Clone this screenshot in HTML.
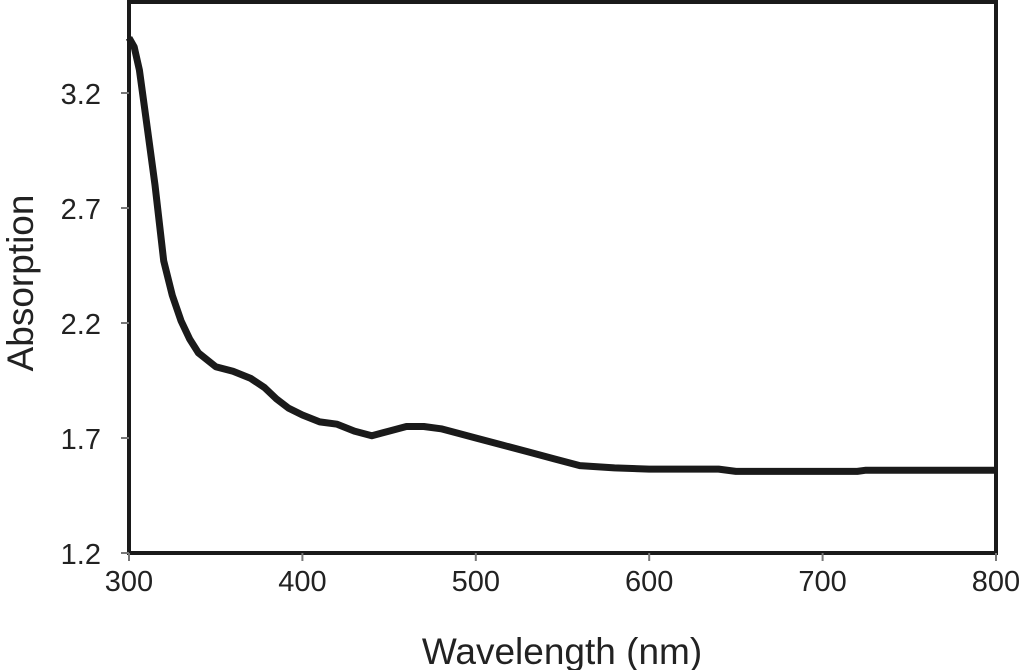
<!DOCTYPE html>
<html><head><meta charset="utf-8"><style>
html,body{margin:0;padding:0;background:#fff;}
svg{display:block;font-family:"Liberation Sans",Arial,sans-serif;}
</style></head><body>
<svg id="chart" width="1024" height="670">
<g id="axes"></g>
<path id="series" fill="none" stroke="#1a1a1a" stroke-width="7" stroke-linejoin="round"/>
<text x="562" y="664" text-anchor="middle" font-size="37" fill="#222">Wavelength (nm)</text>
<text transform="translate(33,283) rotate(-90)" text-anchor="middle" font-size="37" fill="#222">Absorption</text>
</svg>
<script>
const wavelengths=[300,303,306,310,315,320,325,330,335,340,350,360,370,378,385,392,400,410,420,430,440,450,460,470,480,490,500,515,530,545,560,580,600,640,650,720,725,800];
const absorbance=[3.44,3.40,3.30,3.08,2.80,2.47,2.32,2.21,2.13,2.07,2.01,1.99,1.96,1.92,1.87,1.83,1.80,1.77,1.76,1.73,1.71,1.73,1.75,1.75,1.74,1.72,1.70,1.67,1.64,1.61,1.58,1.57,1.565,1.565,1.555,1.555,1.56,1.56];
const xTicks=[300,400,500,600,700,800];
const yTicks=[1.2,1.7,2.2,2.7,3.2];
const X=v=>129+(v-300)*(996-129)/500;
const Y=v=>553-(v-1.2)*230;
const NS="http://www.w3.org/2000/svg";
const ax=document.getElementById('axes');
function el(t,a,p){const e=document.createElementNS(NS,t);for(const k in a)e.setAttribute(k,a[k]);(p||ax).appendChild(e);return e;}
const frame=el('rect',{x:129,y:2,width:867,height:551,fill:'none',stroke:'#1a1a1a','stroke-width':4});


xTicks.forEach(v=>{
  const l=el('line',{x1:X(v),x2:X(v),y1:553,y2:561,stroke:'#777','stroke-width':2});
  
  
  const t=el('text',{x:X(v),y:591,'text-anchor':'middle','font-size':29,fill:'#222'});
  t.textContent=v;
  
  
});
yTicks.forEach(v=>{
  const l=el('line',{x1:121,x2:129,y1:Y(v),y2:Y(v),stroke:'#777','stroke-width':2});
  
  
  const t=el('text',{x:101,y:Y(v)+11,'text-anchor':'end','font-size':29,fill:'#222'});
  t.textContent=v.toFixed(1);
  
  
});
document.getElementById('series').setAttribute('d',wavelengths.map((w,i)=>(i?'L':'M')+X(w).toFixed(1)+','+Y(absorbance[i]).toFixed(1)).join(''));
</script>
</body></html>
